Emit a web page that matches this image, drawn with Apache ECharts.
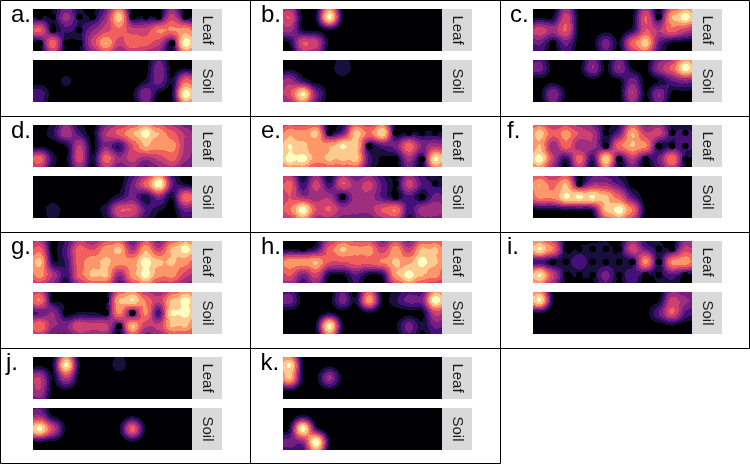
<!DOCTYPE html>
<html><head><meta charset="utf-8">
<style>html,body{margin:0;padding:0;background:#fff}#c{width:750px;height:464px}</style>
<script src="https://cdn.jsdelivr.net/npm/echarts@6/dist/echarts.min.js"></script>
</head><body><div id="c"></div>
<script>
// Sample levels: 0 = black ... 9+ = cream; a negative level is a black low-value
// sample sitting in a halo of that level. 12 columns x 3 rows per panel.
const aLeaf=[[-1.5,-1.5,4.5,-2,-1.5,4.5,8.5,-1.5,-1.5,-1.5,5.5,-2],[6,-1.5,2.5,-2,4,5.7,6.8,5.5,5.5,7,7,7.5],[-1.5,6.5,-1.5,-1.5,5.5,8,5.7,7,6.5,5.5,-1.5,9.5]];
const aSoil=[[0,0,0,0,0,0,0,0,0,3.8,0,0],[0,0,1.2,0,0,0,0,0,1.5,3.5,1.5,6.5],[2.8,0,0,0,0,0,0,1,4,0,1.5,9.5]];
const bLeaf=[[6,0.5,0,9,0,0,0,0,0,0,0,0],[4.5,1.5,0,0,0,0,0,0,0,0,0,0],[1.5,6,5.5,0,0,0,0,0,0,0,0,0]];
const bSoil=[[0,0,0,0,2,0,0,0,0,0,0,0],[4.5,2.5,0,0,0,0,0,0,0,0,0,0],[6,9,4,0,0,0,0,0,0,0,0,0]];
const cLeaf=[[0,0,5.5,0,0,0,0,0,6,-1.5,8,9.5],[5.5,4.5,6,0,0,0,0,2,6,5,6.5,5.5],[3.5,-1.5,3.5,0,0,3.5,0,6.5,8.5,3.5,0,0]];
const cSoil=[[3.5,0,0,0,4,0.5,4,0,0,4.5,6.5,9.5],[0,0,0,0,0,0,0,3.5,0,1,3,4],[0,4,1,0,0,0,0,5,0.5,4,0,0]];
const dLeaf=[[0,2,5,2.5,0,5,6.5,8,9.5,8,6.5,5],[0,0,0,5,0,4,2.5,6,8,7.5,7.5,5],[6.5,2,0,5.5,0,6.5,4.5,5.5,4.5,5.5,6.5,4.5]];
const dSoil=[[0,0,0,0,0,0,0,3.5,6.5,9.5,3.5,0],[0,0,0,0,0,0,2,3.5,2,4,1.5,6.5],[0,1.7,0,0,0,2,6,6,3,1.5,0,3.5]];
const eLeaf=[[7.8,7.6,8.2,-1.5,3.5,8.4,7,8.7,-1.5,-1.5,-1.5,-1.5],[9,8.4,7.6,7.8,9,8.4,-1.5,3,3.5,6.5,4,5],[9.5,9.5,7.8,8.3,8.3,8.4,3,-1,-1,4.5,-1.5,9]];
const eSoil=[[6.5,2.5,5.5,2.5,6,4.7,5.5,3,-1.5,5.5,3,-2],[6,4.7,4.7,4.7,-1.5,4.7,4.7,3,-1.5,2.8,-1.5,3.5],[7,9.5,6.2,6.2,4.7,4.7,4.7,6.2,7,2.8,4.7,5]];
const fLeaf=[[8.5,6.5,7.5,6,5,-1.5,3.5,8,5.5,5.5,-2.5,-2.5],[8,4.5,6.5,4.5,4.5,-1.5,6.5,8,7,-2,-2.5,-2.5],[9.5,5.5,2,6.5,2,8.5,-1.5,5,-1.5,3.5,7,-2]];
const fSoil=[[8,6.8,8,-1,4.5,4.5,3,0,0,0,0,0],[7.2,7.2,9,9,9,8.2,6.5,3,0,0,0,0],[0,0.5,0.5,0.5,2,8.2,9.5,7,1,0,0,0]];
const gLeaf=[[6.5,-1,3,6.6,6,7.6,8.2,5,7.8,5.5,8.2,9.5],[8.2,2,2.5,6.6,7.8,8.3,7.6,7.6,9.5,8.2,8.2,7.5],[7.5,5,2.5,6.6,8.3,8.3,4.5,7.6,9.5,7.5,7.5,5.7]];
const gSoil=[[7,-1,1,-1,-1,-1,8,9,7,5.5,8.2,9.5],[3.5,4,-1,1.5,1.5,-1,7,-2,7,2.5,9,9.5],[7,4.5,4,6,5.5,5.5,-1.5,8,5.5,5.5,8.2,8.2]];
const hLeaf=[[1,-1,2.5,6.5,8.2,7.5,7.5,5.5,7.5,5.5,8.2,8.2],[7.6,7.4,8,6,6,6.5,6.5,7,8.2,7.8,9.5,8.2],[6.2,4,5.7,0,0,3,0,0,7.8,9.5,8.2,7.5]];
const hSoil=[[3.5,0,0,0,3.5,0.5,7.5,1,2,3.5,4,9.5],[0,0,0,0,0,0,0,0,0,1,1,5.5],[0,0,1,9,0.5,0,0,0,1,3.5,1.5,3.5]];
const iLeaf=[[9,7,-1.5,-1.5,-1.5,-1.5,-1.5,5.5,3.5,-1.5,-1.5,5.5],[3,-1.5,-1.5,2.8,-1.5,-1.5,-1.5,-1.5,7,-1.5,7,7.5],[9,5.5,-1.5,-1.5,-1.5,3.5,-1.5,3,-1.5,-1.5,3,-1.5]];
const iSoil=[[9,0.5,0,0,0,0,0,0,0,1,5.5,4.5],[1,0,0,0,0,0,0,0,0,3,6,3],[0,0,0,0,0,0,0,0,0,0,1,0]];
const jLeaf=[[0,0,9,0,0,0,1.6,0,0,0,0,0],[5,0,5,0,0,0,0,0,0,0,0,0],[5,0,0,0,0,0,0,0,0,0,0,0]];
const jSoil=[[4.5,0,0,0,0,0,0,0,0,0,0,0],[9,5.5,0,0,0,0,0,6,0,0,0,0],[0,0,0,0,0,0,0,0,0,0,0,0]];
const kLeaf=[[9,0,0,0,0,0,0,0,0,0,0,0],[8,0,0,4,0,0,0,0,0,0,0,0],[0.5,0,0,0,0,0,0,0,0,0,0,0]];
const kSoil=[[0,1.5,0,0,0,0,0,0,0,0,0,0],[0,9,0,0,0,0,0,0,0,0,0,0],[3.5,4.5,9.5,0,0,0,0,0,0,0,0,0]];
const panelNames=['a.','b.','c.','d.','e.','f.','g.','h.','i.','j.','k.'];
const leafPanels=[aLeaf,bLeaf,cLeaf,dLeaf,eLeaf,fLeaf,gLeaf,hLeaf,iLeaf,jLeaf,kLeaf];
const soilPanels=[aSoil,bSoil,cSoil,dSoil,eSoil,fSoil,gSoil,hSoil,iSoil,jSoil,kSoil];
const bandColors=['#000004','#180f3d','#440f76','#721f81','#9e2f7f','#cd4071','#f1605d','#fd9668','#feca8d','#fcfdbf'];
const bandStarts=[0,0.05,0.11,0.18,0.25,0.32,0.40,0.48,0.57,0.67,0.77];
const labelX=[11,11,10,11,11,7,11,11,7,6,10.5];

const POINT=8.5, BLUR=9, K0=0.80, K1=0.10, GHOST=0.7, HOLE=6.5;
const bandList=[];
for(let i=0;i<256;i++){let b=0;while(b<9&&i/255>=bandStarts[b+1])b++;bandList.push(bandColors[b]);}
function targetOf(L){const f=Math.min(9,Math.floor(L));return bandStarts[f]+(L-f)*(bandStarts[f+1]-bandStarts[f]);}

echarts.registerMap('panel',{type:'FeatureCollection',features:[{type:'Feature',properties:{name:'p'},
  geometry:{type:'Polygon',coordinates:[[[-0.5,-0.59],[11.5,-0.59],[11.5,2.59],[-0.5,2.59],[-0.5,-0.59]]]}}]});

// Brush strengths such that the blended layer reaches each sample's level at the sample itself
function strengths(rows){
  const a=rows.map(r=>r.map(()=>0));
  const at=(r,c)=>{const R=Math.max(0,Math.min(2,r)),C=Math.max(0,Math.min(11,c));return a[R][C]*((R===r&&C===c)?1:GHOST);};
  for(let it=0;it<25;it++){
    for(let r=0;r<3;r++)for(let c=0;c<12;c++){
      if(rows[r][c]===0){a[r][c]=0;continue;}
      let p=1;
      [[r-1,c],[r+1,c],[r,c-1],[r,c+1]].forEach(n=>{p*=1-K1*at(n[0],n[1]);});
      a[r][c]=Math.max(0,Math.min(1,(1-(1-targetOf(Math.abs(rows[r][c])))/p)/K0));
    }
  }
  return a;
}
function seriesData(rows){
  const a=strengths(rows),out=[];
  for(let r=-1;r<=3;r++)for(let c=-1;c<=12;c++){
    const R=Math.max(0,Math.min(2,r)),C=Math.max(0,Math.min(11,c));
    const ghost=(R!==r||C!==c);
    const v=a[R][C]*(ghost?GHOST:1);
    const y=r<0?-1.18:(r>2?3.18:r);
    if(v>0)out.push([c,y,v]);
  }
  return out;
}
function holeData(rows){
  const out=[];
  rows.forEach((row,r)=>row.forEach((v,c)=>{if(v<0)out.push([c,r]);}));
  return out;
}

const CELL_W=250,CELL_H=116,PX=33,PW=159,LEAF_Y=9,SOIL_Y=60,PH=42,BOXW=30;
const geos=[],heat=[],holes=[],gfx=[];
function addPanel(rows,x,y){
  const idx=geos.length;
  geos.push({map:'panel',left:x,top:y,width:PW,height:PH,silent:true,roam:false,
    projection:{project:p=>[p[0],p[1]],unproject:p=>[p[0],p[1]]},
    itemStyle:{areaColor:'#000004',borderWidth:0},label:{show:false},emphasis:{disabled:true},select:{disabled:true}});
  heat.push({type:'heatmap',coordinateSystem:'geo',geoIndex:idx,pointSize:POINT,blurSize:BLUR,minOpacity:1,maxOpacity:1,silent:true,animation:false,data:seriesData(rows)});
  const h=holeData(rows);
  if(h.length)holes.push({type:'scatter',coordinateSystem:'geo',geoIndex:idx,symbol:'circle',symbolSize:HOLE,silent:true,animation:false,z:5,itemStyle:{color:'#000004',opacity:1},data:h});
}
function addBox(x,y,txt){
  gfx.push({type:'rect',shape:{x:x+PX+PW,y:y,width:BOXW,height:PH},style:{fill:'#d9d9d9'},silent:true});
  gfx.push({type:'text',x:x+PX+PW+BOXW/2,y:y+PH/2,rotation:-Math.PI/2,style:{text:txt,font:'15px "Liberation Sans"',fill:'#1a1a1a',align:'center',verticalAlign:'middle'},silent:true});
}
panelNames.forEach((name,i)=>{
  const col=i%3,row=Math.floor(i/3),ox=col*CELL_W,oy=row*CELL_H;
  addPanel(leafPanels[i],ox+PX,oy+LEAF_Y);
  addPanel(soilPanels[i],ox+PX,oy+SOIL_Y);
  addBox(ox,oy+LEAF_Y,'Leaf');
  addBox(ox,oy+SOIL_Y,'Soil');
  gfx.push({type:'text',x:ox+labelX[i],y:oy+27,style:{text:name,font:'24px "Liberation Sans"',fill:'#000',align:'left',verticalAlign:'bottom'},silent:true});
  gfx.push({type:'rect',shape:{x:ox+0.5,y:oy+0.5,width:CELL_W-(col===2?1:0),height:CELL_H-(row===3?1:0)},style:{fill:'none',stroke:'#000',lineWidth:1},silent:true});
});
const chart=echarts.init(document.getElementById('c'),null,{renderer:'canvas'});
chart.setOption({animation:false,backgroundColor:'#fff',geo:geos,series:heat.concat(holes),
  visualMap:{type:'continuous',show:false,min:0,max:1,seriesIndex:heat.map((s,i)=>i),inRange:{color:bandList}},
  graphic:{elements:gfx}});
</script></body></html>
